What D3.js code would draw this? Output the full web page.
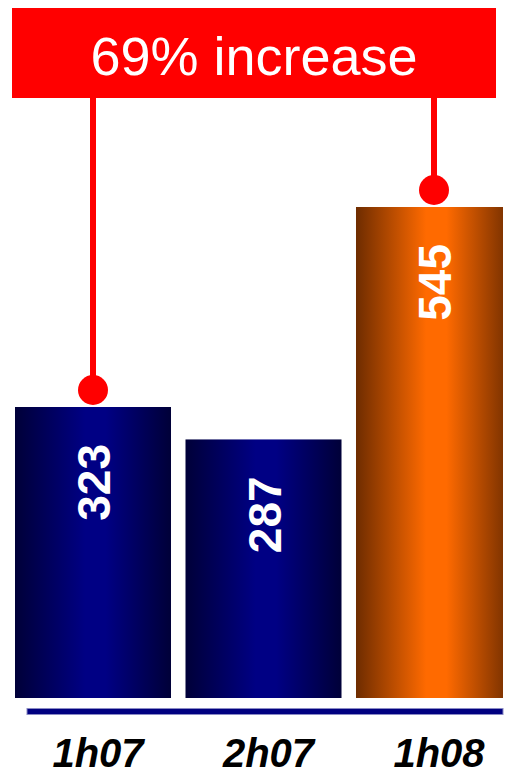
<!DOCTYPE html>
<html>
<head>
<meta charset="utf-8">
<script src="https://cdn.jsdelivr.net/npm/d3@7"></script>
<style>
  body { margin: 0; background: #fff; }
  text { font-family: Arial, "Liberation Sans", sans-serif; }
</style>
</head>
<body>
<div id="chart"></div>
<script>
var categories = ["1h07", "2h07", "1h08"];
var values = [323, 287, 545];
var barColors = ["navy", "navy", "orange"];
var bannerText = "69% increase";
var linkedBars = [0, 2];

var width = 505,
    height = 771;

var svg = d3.select("#chart")
    .append("svg")
    .attr("width", width)
    .attr("height", height);

var defs = svg.append("defs");

// horizontal "cylinder" shading
function addGradient(id, edge, mid) {
    var g = defs.append("linearGradient")
        .attr("id", id)
        .attr("x1", "0%").attr("x2", "100%")
        .attr("y1", "0%").attr("y2", "0%");
    g.append("stop").attr("offset", "0%").attr("stop-color", edge);
    g.append("stop").attr("offset", "45%").attr("stop-color", mid);
    g.append("stop").attr("offset", "58%").attr("stop-color", mid);
    g.append("stop").attr("offset", "100%").attr("stop-color", edge);
}
addGradient("grad-navy", "#000038", "#000084");
addGradient("grad-orange", "#6e2c00", "#ff6a00");

defs.append("clipPath").attr("id", "plotclip")
    .append("rect").attr("x", 0).attr("y", 0).attr("width", 503).attr("height", height);

var x = d3.scaleBand()
    .domain(categories)
    .range([15, 512])
    .paddingInner(0.085)
    .paddingOuter(0);

var y = d3.scaleLinear()
    .domain([0, 545])
    .range([698, 207]);

var plot = svg.append("g").attr("clip-path", "url(#plotclip)");

plot.selectAll(".bar")
    .data(values)
    .enter().append("rect")
    .attr("class", "bar")
    .attr("x", function(d, i) { return x(categories[i]) })
    .attr("y", function(d) { return y(d) })
    .attr("width", x.bandwidth())
    .attr("height", function(d) { return y(0) - y(d) })
    .attr("fill", function(d, i) { return "url(#grad-" + barColors[i] + ")" });

// value labels, rotated
plot.selectAll(".val")
    .data(values)
    .enter().append("text")
    .attr("class", "val")
    .attr("transform", function(d, i) {
        var cx = x(categories[i]) + x.bandwidth() / 2;
        return "translate(" + (cx + 17) + "," + (y(d) + 37) + ") rotate(-90)";
    })
    .attr("text-anchor", "end")
    .attr("fill", "#fff")
    .attr("font-weight", "bold")
    .attr("font-size", 46)
    .text(function(d) { return d });

// baseline
svg.append("rect")
    .attr("x", 27).attr("y", 708.5)
    .attr("width", 476).attr("height", 6)
    .attr("fill", "#000080")
    .attr("stroke", "#8a8ac4")
    .attr("stroke-width", 1);

// category labels
svg.selectAll(".cat")
    .data(categories)
    .enter().append("text")
    .attr("class", "cat")
    .attr("x", function(d) { return x(d) + x.bandwidth() / 2 + 5 })
    .attr("y", 767)
    .attr("text-anchor", "middle")
    .attr("font-size", 40)
    .attr("font-weight", "bold")
    .attr("font-style", "italic")
    .attr("fill", "#000")
    .text(function(d) { return d });

// banner and connectors
var bannerBottom = 98;
svg.selectAll(".link")
    .data(linkedBars)
    .enter().append("line")
    .attr("class", "link")
    .attr("x1", function(i) { return x(categories[i]) + x.bandwidth() / 2 })
    .attr("x2", function(i) { return x(categories[i]) + x.bandwidth() / 2 })
    .attr("y1", bannerBottom)
    .attr("y2", function(i) { return y(values[i]) - 17 })
    .attr("stroke", "#ff0000")
    .attr("stroke-width", 6);

svg.selectAll(".dot")
    .data(linkedBars)
    .enter().append("circle")
    .attr("class", "dot")
    .attr("cx", function(i) { return x(categories[i]) + x.bandwidth() / 2 })
    .attr("cy", function(i) { return y(values[i]) - 17 })
    .attr("r", 15)
    .attr("fill", "#ff0000");

svg.append("rect")
    .attr("x", 12).attr("y", 8)
    .attr("width", 484).attr("height", bannerBottom - 8)
    .attr("fill", "#ff0000");

svg.append("text")
    .attr("x", 254)
    .attr("y", 75)
    .attr("text-anchor", "middle")
    .attr("font-size", 54)
    .attr("fill", "#fff")
    .text(bannerText);
</script>
</body>
</html>
